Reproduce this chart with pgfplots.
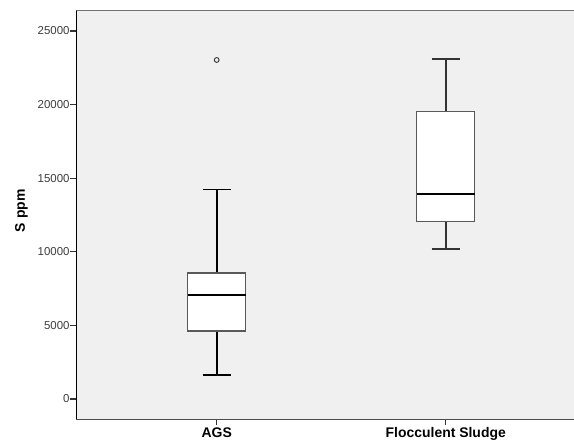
\documentclass[border=0pt]{standalone}
\usepackage{pgfplots}
\pgfplotsset{compat=1.18}
\usepgfplotslibrary{statistics}
\usepackage{fontspec}
\setmainfont{Liberation Sans}
\definecolor{panelbg}{RGB}{240,240,240}
\definecolor{ticktext}{RGB}{60,60,60}
\begin{document}
\begin{tikzpicture}
\begin{axis}[
  at={(0,0)}, anchor=south west,
  scale only axis, width=497.7bp, height=409bp,
  xmin=0.387, xmax=2.56, ymin=-1379, ymax=26404,
  axis background/.style={fill=panelbg},
  axis x line*=bottom, axis y line*=left,
  x axis line style={black!70, line width=1.4bp},
  y axis line style={black, line width=1.3bp},
  xtick={1,2}, xticklabels={AGS, Flocculent Sludge},
  ytick={0,5000,10000,15000,20000,25000},
  tick align=outside,
  major tick length=6bp,
  major tick style={draw=black!80, line width=1.2bp},
  scaled y ticks=false,
  /pgf/number format/assume math mode=true,
  /pgf/number format/1000 sep={},
  yticklabel style={font=\fontsize{11.5}{12}\selectfont, text=ticktext, inner sep=0.6bp},
  xticklabel style={font=\fontsize{14}{15}\selectfont\bfseries, inner sep=2bp},
  ylabel={S ppm},
  ylabel style={font=\fontsize{14}{15}\selectfont\bfseries, at={(axis description cs:-0.11,0.51)}, anchor=center},
  boxplot/draw direction=y,
]
\addplot[black, line width=1.5bp, mark=o, mark size=2.4bp, mark options={black!80, line width=0.9bp},
  boxplot prepared={draw position=1, median=7044, upper quartile=8559, lower quartile=4619,
    upper whisker=14218, lower whisker=1610, box extend=0.253, whisker extend=0.124,
    every box/.style={draw=black!65, fill=white, line width=1.3bp},
    every whisker/.style={black, line width=1.6bp},
    every median/.style={black, line width=2.3bp}}]
  table[row sep=\\, y index=0]{data\\23030\\};
\addplot[black, line width=1.5bp, mark=o,
  boxplot prepared={draw position=2, median=13946, upper quartile=19543, lower quartile=12071,
    upper whisker=23096, lower whisker=10169, box extend=0.253, whisker extend=0.124,
    every box/.style={draw=black!65, fill=white, line width=1.3bp},
    every whisker/.style={black!80, line width=1.6bp},
    every median/.style={black, line width=2.3bp}}]
  coordinates {};
\draw[black!55, line width=1.4bp] (rel axis cs:0,1) -- (rel axis cs:1,1);
\end{axis}
\pgfresetboundingbox
\path[use as bounding box] (-76.3bp,-23.7bp) rectangle (497.7bp,419.3bp);
\end{tikzpicture}
\end{document}
